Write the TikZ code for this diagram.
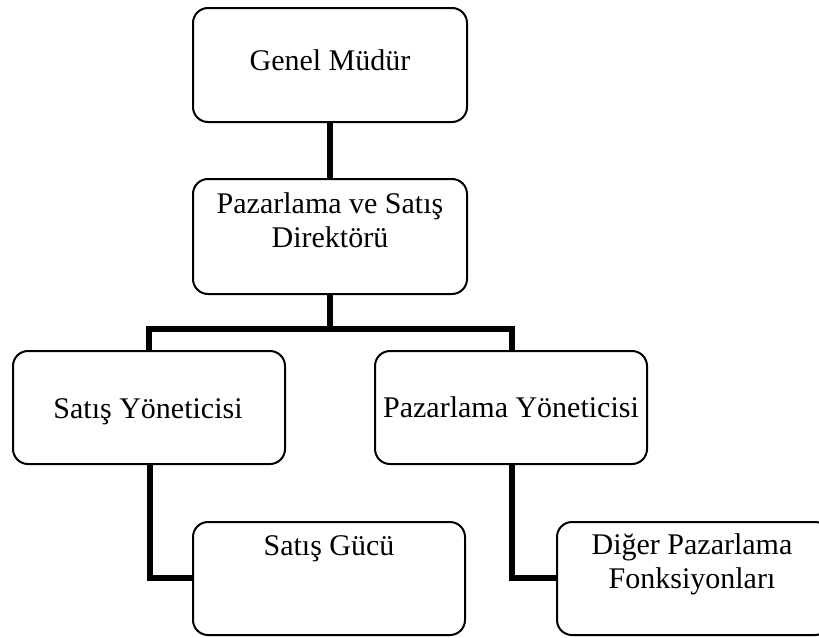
\documentclass[tikz,border=0pt]{standalone}
\usepackage{fontspec}
\setmainfont{Liberation Serif}
\begin{document}
\begin{tikzpicture}[x=1pt,y=-1pt,
  orgbox/.style={draw=black,line width=2pt,rounded corners=15pt,fill=white},
  label/.style={font=\fontsize{30}{34}\selectfont,anchor=base,align=center,inner sep=0pt},
  link/.style={line width=5.5pt,line join=miter,line cap=butt}]
\useasboundingbox (0,0) rectangle (819,637);

% bend points of the reporting lines
\coordinate (splitL) at (149,329);
\coordinate (splitR) at (512,329);
\coordinate (elbowL) at (150,578);
\coordinate (elbowR) at (512,578);

% boxes
\node[orgbox,minimum width=274pt,minimum height=114pt] (gm) at (330,65) {};
\node[orgbox,minimum width=274pt,minimum height=115pt] (dir) at (330,236.5) {};
\node[orgbox,minimum width=272pt,minimum height=113pt] (sy) at (149,407.5) {};
\node[orgbox,minimum width=272pt,minimum height=113pt] (py) at (511,407.5) {};
\node[orgbox,minimum width=272pt,minimum height=113pt] (sg) at (329,578.5) {};
\node[orgbox,minimum width=273pt,minimum height=113pt] (dp) at (693.5,578.5) {};

% reporting lines
\draw[link] (gm.south) -- (dir.north);
\draw[link] (dir.south) -- (dir.south |- splitL) -- (splitL) -- (splitL |- sy.north);
\draw[link] (dir.south |- splitR) -- (splitR) -- (splitR |- py.north);
\draw[link] (elbowL |- sy.south) -- (elbowL) -- (sg.west |- elbowL);
\draw[link] (elbowR |- py.south) -- (elbowR) -- (dp.west |- elbowR);

% texts (base anchor = baseline of the last line)
\node[label] (tgm) at (330,70) {Genel Müdür};
\node[label] (tdir) at (330,247) {Pazarlama ve Satış\\Direktörü};
\node[label] (tsy) at (148,418) {Satış Yöneticisi};
\node[label] (tpy) at (511,417) {Pazarlama Yöneticisi};
\node[label] (tsg) at (329,555) {Satış Gücü};
\node[label] (tdp) at (692,588) {Diğer Pazarlama\\Fonksiyonları};
\end{tikzpicture}
\end{document}
